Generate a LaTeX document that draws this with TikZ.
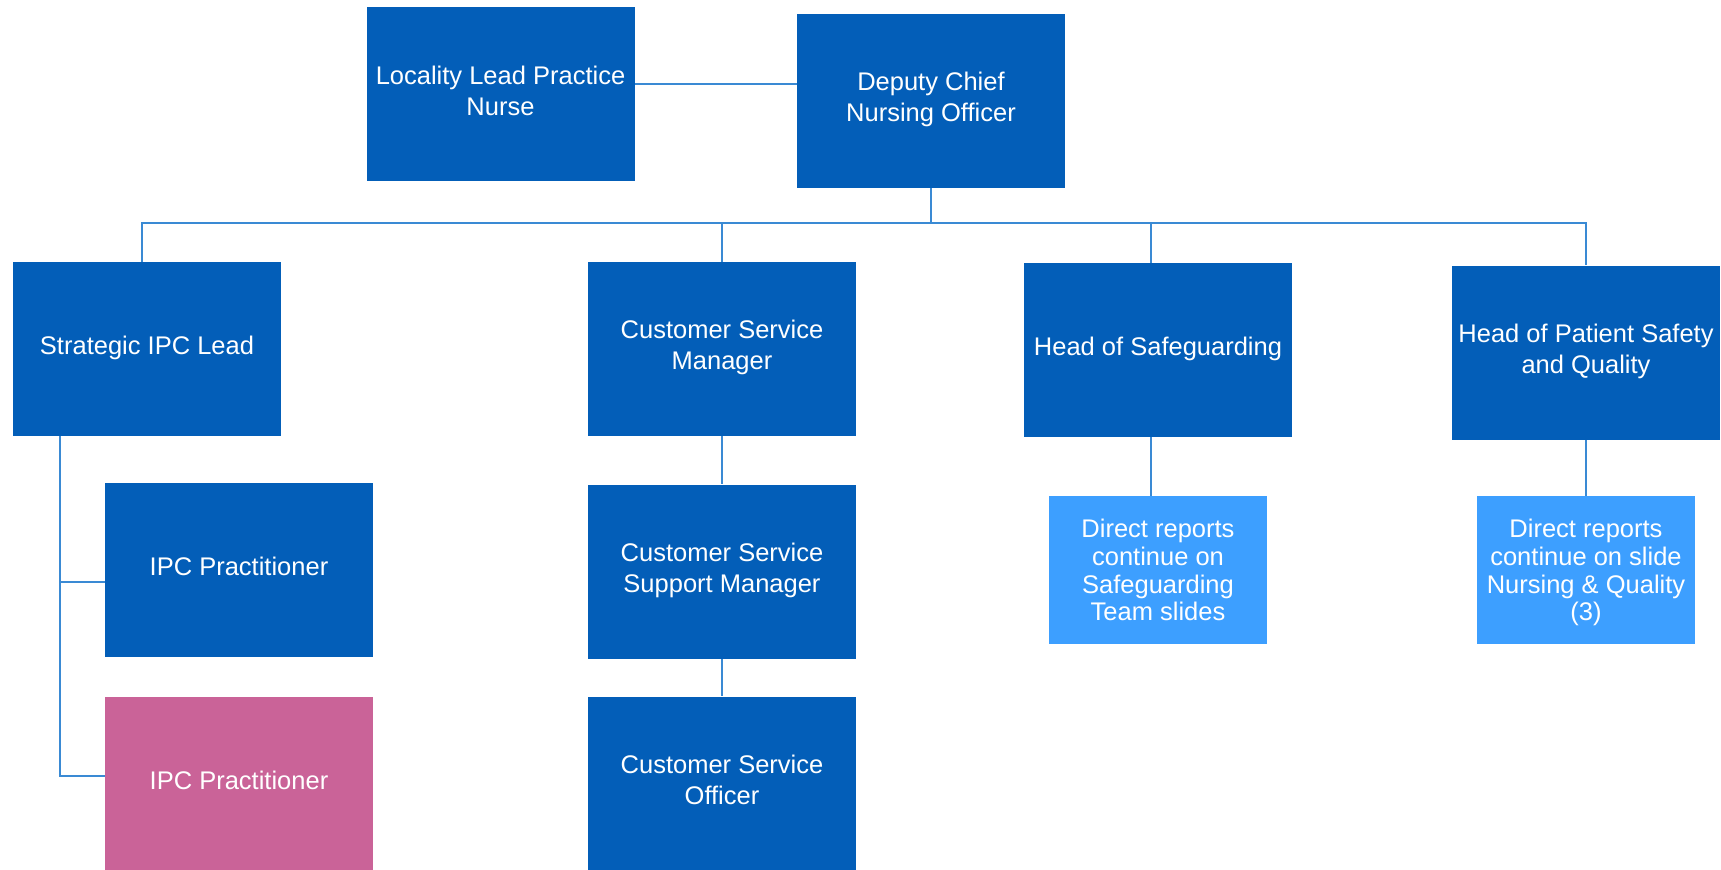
\documentclass[tikz,border=0pt]{standalone}
\usepackage{fontspec}
\setmainfont{Liberation Sans}
\usepackage{tikz}
\usetikzlibrary{positioning}
\definecolor{nhsblue}{HTML}{035EB8}
\definecolor{paleblue}{HTML}{3D9FFF}
\definecolor{ipcpink}{HTML}{CA6398}
\definecolor{linkblue}{HTML}{3A8AD4}

\begin{document}
\begin{tikzpicture}[x=0.5pt,y=-0.5pt,node distance=24pt,
	main node/.style={rectangle, fill=nhsblue, text=white, align=center, minimum width=134pt, minimum height=87pt, text depth=4pt, inner sep=0pt, font=\fontsize{12.75}{15.4}\selectfont},
	note node/.style={rectangle, fill=paleblue, text=white, align=center, minimum width=109pt, minimum height=74pt, text depth=0pt, inner sep=0pt, font=\fontsize{12.75}{13.9}\selectfont},
	link/.style={draw=linkblue, line width=1pt}]
			\useasboundingbox (0,0) rectangle (1721,869);
			% Top
			\node [main node] (1) at (500.5,94.4) {Locality Lead Practice\\Nurse};
			\node [main node] (2) at (931,101) {Deputy Chief\\Nursing Officer};
			
			% Second row
			\node [main node] (3) at (147,349) {Strategic IPC Lead};
			\node [main node] (4) at (722,349) {Customer Service\\Manager};
			\node [main node] (5) at (1158,350) {Head of Safeguarding};
			\node [main node] (6) at (1586,352.5) {Head of Patient Safety\\and Quality};
			
			% Below
			\node [main node] (7) at (239,570) {IPC Practitioner};
			\node [main node, fill=ipcpink] (8) [below=19.5pt of 7] {IPC Practitioner};
			\node [main node] (9) [below=24pt of 4] {Customer Service\\Support Manager};
			\node [main node] (10) [below=18.5pt of 9] {Customer Service\\Officer};
			\node [note node] (11) at (1158,570) {Direct reports\\continue on\\Safeguarding\\Team slides};
			\node [note node] (12) at (1586,570) {Direct reports\\continue on slide\\Nursing \& Quality\\(3)};
			
			\coordinate (bus) at (0,223);
			
			\draw[link] ([yshift=5pt]1.east) -- ([yshift=5pt]1.east -| 2.west);
			\draw[link] (2.south) -- (2.south |- bus);
			\draw[link] ([xshift=-2.7pt]3.north) |- (6.north |- bus) -- (6.north);
			\draw[link] (4.north) -- (4.north |- bus);
			\draw[link] ([xshift=-3.5pt]5.north) -- ([xshift=-3.5pt]5.north |- bus);
			
			\draw[link] ([xshift=-43.5pt]3.south) |- ([yshift=3.75pt]8.west);
			\draw[link] ([yshift=-6pt]7.west) -| ([xshift=-43.5pt]3.south);
			
			\draw[link] (4) -- (9);
			\draw[link] (9) -- (10);
			\draw[link] ([xshift=-3.5pt]5.south) -- ([xshift=-3.5pt]5.south |- 11.north);
			\draw[link] (6) -- (12);
			
		\end{tikzpicture}
\end{document}
